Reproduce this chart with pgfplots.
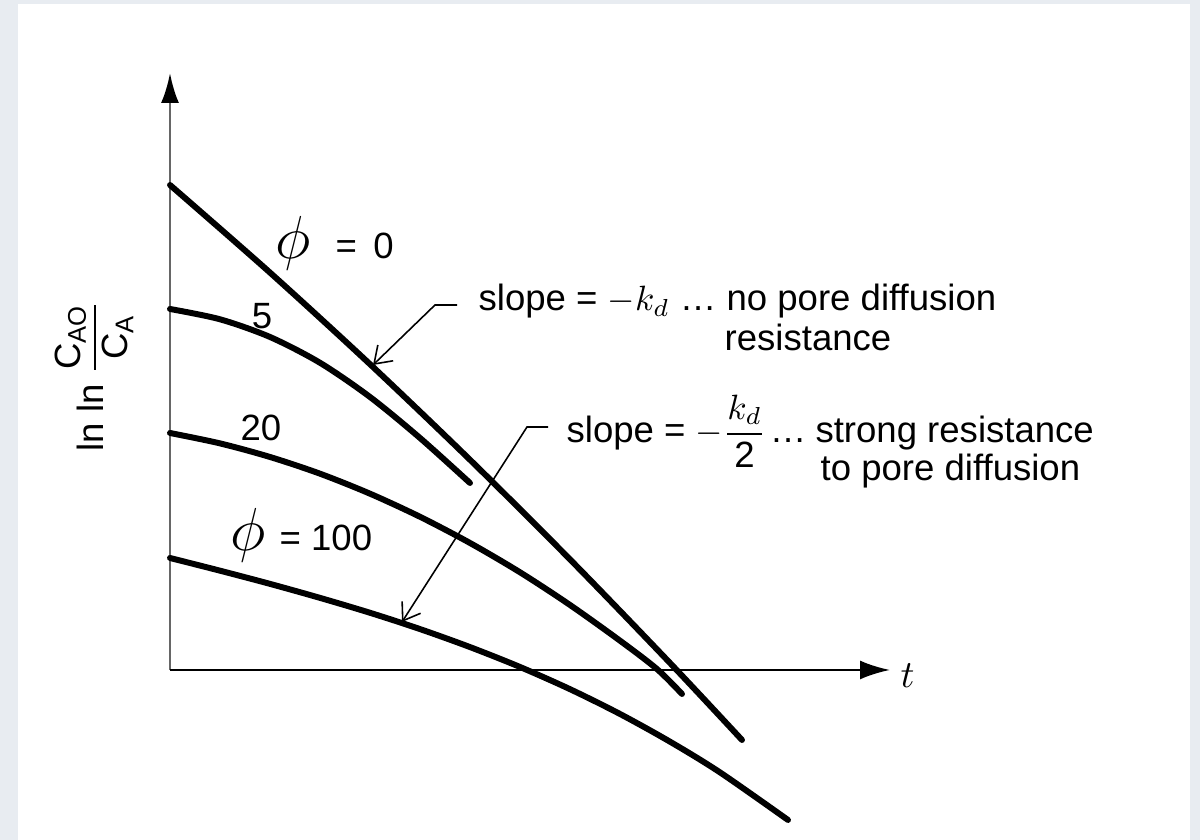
\documentclass[border=0pt]{standalone}
\usepackage{amsmath}
\usepackage{fontspec}
\setmainfont{Liberation Sans}
\usepackage{pgfplots}
\pgfplotsset{compat=1.18}
\usetikzlibrary{arrows.meta}
\definecolor{pagebg}{RGB}{232,236,241}
\tikzset{
  txt/.style={font=\fontsize{10.4}{12.5}\selectfont, inner sep=0pt},
  curve/.style={black, line width=1.7pt, smooth, mark=none, line cap=round},
}

% ln ln(C_A0/C_A) versus t for several Thiele moduli (canvas units: 1 = 0.1 mm, y downward)
\pgfplotstableread{
x y
170 185
270 272.6
370 364.2
470 459.8
570 559.4
670 663
742 740
}\phizero
\pgfplotstableread{
x y
170 309
220 319.3
270 337
320 362.8
370 397
420 438
470 483
}\phifive
\pgfplotstableread{
x y
170 433
220 443.4
270 457
320 473.7
370 493.7
420 516.8
470 543
520 572.3
570 605
620 640.7
657 669.1
682 694
}\phitwenty
\pgfplotstableread{
x y
170 558
220 570.7
270 583.9
320 597.9
370 612.8
420 629.1
470 647.1
520 667
570 689.2
620 714
670 741.7
720 772.4
788 820
}\phihundred

\begin{document}
\begin{tikzpicture}
\begin{axis}[
  scale only axis, width=12cm, height=8.4cm,
  xmin=0, xmax=1200, ymin=0, ymax=840, y dir=reverse,
  axis lines=none, clip=false,
]
% page background
\fill[pagebg] (axis cs:0,0) rectangle (axis cs:1200,840);
\fill[white] (axis cs:18,4) rectangle (axis cs:1190,840);

% axes
\draw[black!60, line width=0.8pt, -{Latex[length=3mm, width=1.8mm, color=black]}]
  (axis cs:170,670) -- (axis cs:170,73);
\draw[black, line width=0.7pt, -{Latex[length=3mm, width=1.9mm]}]
  (axis cs:170,670) -- (axis cs:890,670);
\node[anchor=west, inner sep=0pt, font=\fontsize{11}{13}\selectfont] at (axis cs:900,676) {$t$};

% curves
\addplot[curve] table {\phizero};
\addplot[curve] table {\phifive};
\addplot[curve] table {\phitwenty};
\addplot[curve] table {\phihundred};

% curve labels
\node[inner sep=0pt, font=\fontsize{16}{18}\selectfont] at (axis cs:293,243) {$\phi$};
\node[txt, anchor=west] at (axis cs:335,246) {=\hspace{0.45em}0};
\node[txt] at (axis cs:262,316) {5};
\node[txt] at (axis cs:261,428) {20};
\node[inner sep=0pt, font=\fontsize{16}{18}\selectfont] at (axis cs:248,535) {$\phi$};
\node[txt, anchor=west] at (axis cs:279,538) {= 100};

% y-axis label
\node[txt, rotate=90] at (axis cs:94,376)
  {ln ln $\dfrac{\text{C}_{\text{AO}}}{\text{C}_{\text{A}}}$};

% slope annotations
\draw[line width=0.45pt, -{Straight Barb[length=1.6mm, width=2.2mm]}]
  (axis cs:457,305) -- (axis cs:435,305) -- (axis cs:373,365);
\node[txt, anchor=base west] at (axis cs:478,311)
  {slope = $-k_d$ \ldots\ no pore diffusion};
\node[txt, anchor=base west] at (axis cs:724,351) {resistance};

\draw[line width=0.45pt, -{Straight Barb[length=1.6mm, width=2.2mm]}]
  (axis cs:548,427) -- (axis cs:527,427) -- (axis cs:402,622);
\node[txt, anchor=base west] at (axis cs:566,443)
  {slope = $-\dfrac{k_d}{\text{2}}$\hspace{0.1em}\ldots\hspace{0.25em}strong resistance};
\node[txt, anchor=base west] at (axis cs:820,481) {to pore diffusion};
\end{axis}
\end{tikzpicture}
\end{document}
